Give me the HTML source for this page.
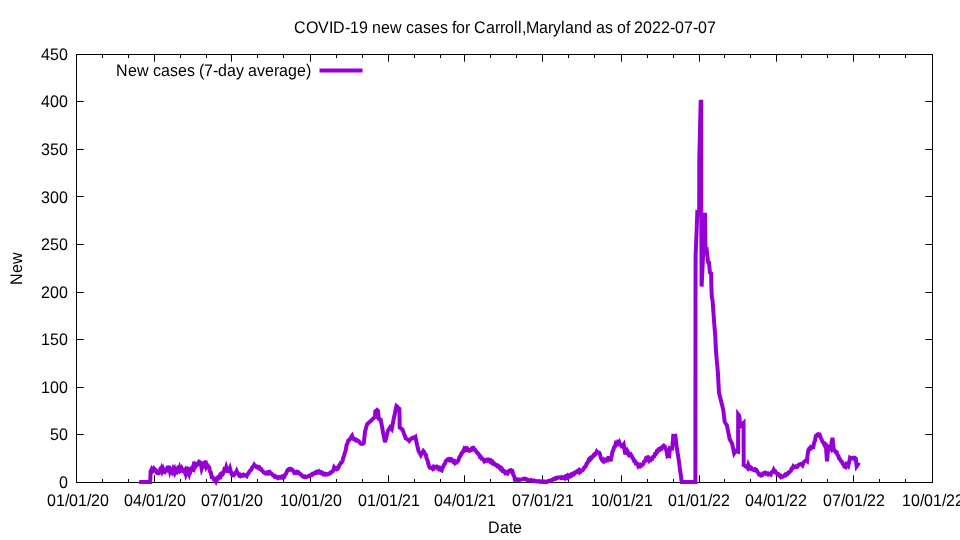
<!DOCTYPE html>
<html lang="en"><head><meta charset="utf-8"><title>COVID-19 new cases for Carroll,Maryland</title>
<style>html,body{margin:0;padding:0;background:#fff;overflow:hidden}body{width:960px;height:540px;position:relative}</style>
</head><body>
<svg width="960" height="540" viewBox="0 0 960 540" style="position:absolute;left:0;top:0">
<rect width="960" height="540" fill="#fff"/>
<path d="M154.50 482.5v-7.2M154.50 54.5v7.2M231.50 482.5v-7.2M231.50 54.5v7.2M310.50 482.5v-7.2M310.50 54.5v7.2M388.50 482.5v-7.2M388.50 54.5v7.2M464.50 482.5v-7.2M464.50 54.5v7.2M542.50 482.5v-7.2M542.50 54.5v7.2M621.50 482.5v-7.2M621.50 54.5v7.2M699.50 482.5v-7.2M699.50 54.5v7.2M776.50 482.5v-7.2M776.50 54.5v7.2M853.50 482.5v-7.2M853.50 54.5v7.2M102.50 482.5v-3.5M102.50 54.5v3.5M128.50 482.5v-3.5M128.50 54.5v3.5M180.50 482.5v-3.5M180.50 54.5v3.5M206.50 482.5v-3.5M206.50 54.5v3.5M257.50 482.5v-3.5M257.50 54.5v3.5M283.50 482.5v-3.5M283.50 54.5v3.5M336.50 482.5v-3.5M336.50 54.5v3.5M362.50 482.5v-3.5M362.50 54.5v3.5M414.50 482.5v-3.5M414.50 54.5v3.5M440.50 482.5v-3.5M440.50 54.5v3.5M490.50 482.5v-3.5M490.50 54.5v3.5M516.50 482.5v-3.5M516.50 54.5v3.5M568.50 482.5v-3.5M568.50 54.5v3.5M594.50 482.5v-3.5M594.50 54.5v3.5M647.50 482.5v-3.5M647.50 54.5v3.5M673.50 482.5v-3.5M673.50 54.5v3.5M724.50 482.5v-3.5M724.50 54.5v3.5M750.50 482.5v-3.5M750.50 54.5v3.5M801.50 482.5v-3.5M801.50 54.5v3.5M827.50 482.5v-3.5M827.50 54.5v3.5M879.50 482.5v-3.5M879.50 54.5v3.5M905.50 482.5v-3.5M905.50 54.5v3.5M76.5 434.50h7.2M932.5 434.50h-7.2M76.5 387.50h7.2M932.5 387.50h-7.2M76.5 339.50h7.2M932.5 339.50h-7.2M76.5 292.50h7.2M932.5 292.50h-7.2M76.5 244.50h7.2M932.5 244.50h-7.2M76.5 196.50h7.2M932.5 196.50h-7.2M76.5 149.50h7.2M932.5 149.50h-7.2M76.5 101.50h7.2M932.5 101.50h-7.2" stroke="#000" stroke-width="1" fill="none"/>
<rect x="76.5" y="54.5" width="856.0" height="428.0" fill="none" stroke="#000" stroke-width="1"/>
<path d="M139.2 482.0 L140.0 482.0 L140.9 482.0 L141.7 482.0 L142.6 482.0 L143.4 482.0 L144.3 482.0 L145.1 482.0 L146.0 482.0 L146.8 482.0 L147.7 482.0 L148.5 482.0 L149.4 482.0 L150.2 482.0 L150.6 471.4 L151.4 469.7 L152.2 471.7 L153.0 470.9 L154.0 468.6 L155.0 469.8 L155.8 470.1 L156.7 472.8 L157.5 473.2 L158.3 473.4 L159.2 472.8 L160.0 470.2 L160.8 471.2 L161.5 469.0 L162.2 471.2 L163.0 469.2 L163.8 471.8 L164.5 472.1 L165.2 470.2 L166.0 470.7 L166.8 470.6 L167.5 467.4 L168.3 467.2 L169.2 467.4 L170.0 471.4 L170.8 469.4 L171.5 469.7 L172.2 471.4 L173.0 469.2 L173.8 471.2 L174.5 469.7 L175.2 472.7 L176.0 471.2 L176.8 471.8 L177.7 469.0 L178.5 469.9 L179.3 467.9 L180.1 470.9 L180.9 470.2 L181.7 468.5 L182.6 470.5 L183.6 470.0 L184.5 471.9 L185.2 470.6 L186.0 474.2 L186.8 472.1 L187.5 474.8 L188.2 472.1 L189.0 474.0 L189.8 470.6 L190.5 471.4 L191.4 468.8 L192.4 469.3 L193.3 466.0 L194.1 467.6 L194.9 464.7 L195.7 465.8 L196.5 464.2 L197.4 464.7 L198.2 463.8 L199.1 461.8 L200.0 462.3 L200.8 464.0 L201.7 468.9 L202.6 466.5 L203.5 466.6 L204.2 462.7 L205.0 462.3 L205.8 462.4 L206.5 466.6 L207.4 465.1 L208.3 466.4 L209.2 467.5 L210.0 471.6 L210.8 472.4 L211.7 477.2 L212.8 477.3 L213.8 479.4 L214.8 479.4 L215.8 481.2 L216.5 479.0 L217.3 479.3 L218.0 477.6 L218.9 477.9 L219.9 475.4 L220.8 476.2 L221.7 473.8 L222.6 474.2 L223.5 472.4 L224.4 469.4 L225.4 470.1 L226.3 467.1 L227.3 470.3 L228.3 471.2 L229.2 470.8 L230.0 468.6 L230.8 471.7 L231.7 474.1 L232.5 475.4 L233.5 475.5 L234.5 474.4 L235.2 472.9 L236.0 472.9 L236.7 471.2 L237.5 473.2 L238.3 473.6 L239.2 475.8 L240.0 476.2 L240.9 475.1 L241.8 475.8 L242.6 475.7 L243.5 474.8 L244.3 475.5 L245.1 475.2 L245.9 475.3 L246.7 476.0 L247.5 474.1 L248.3 473.6 L249.2 471.8 L250.0 470.8 L250.8 470.2 L251.7 469.0 L252.5 466.9 L253.4 466.5 L254.2 464.8 L255.0 465.9 L255.7 466.0 L256.5 467.2 L257.4 466.9 L258.3 467.8 L259.2 467.3 L260.1 469.0 L261.1 469.0 L262.0 470.7 L262.8 471.0 L263.5 472.2 L264.2 472.8 L265.0 473.1 L265.8 473.5 L266.7 472.6 L267.5 473.2 L268.3 472.3 L269.2 473.2 L270.0 472.3 L270.9 473.5 L271.8 473.8 L272.6 475.1 L273.5 475.3 L274.3 476.5 L275.1 476.1 L275.9 477.2 L276.7 477.3 L277.5 478.0 L278.4 477.1 L279.2 477.7 L280.0 477.3 L280.8 477.6 L281.7 476.7 L282.5 477.3 L283.4 476.4 L284.2 476.9 L285.2 474.6 L286.3 473.2 L287.3 470.6 L288.3 469.4 L289.1 469.0 L290.0 469.7 L290.9 468.9 L291.7 469.4 L292.5 470.1 L293.4 470.9 L294.2 472.7 L295.0 472.2 L295.8 472.8 L296.7 472.0 L297.5 472.8 L298.3 472.3 L299.1 473.4 L300.0 473.6 L300.8 474.8 L301.6 475.0 L302.5 476.4 L303.3 476.5 L304.1 477.0 L305.0 476.4 L305.8 477.0 L306.7 477.0 L307.5 476.5 L308.4 476.4 L309.2 475.6 L310.1 475.8 L311.0 474.8 L311.8 474.9 L312.6 473.8 L313.4 474.0 L314.2 473.2 L315.0 473.2 L315.8 472.3 L316.7 472.8 L317.5 471.7 L318.4 472.3 L319.2 471.5 L320.0 472.5 L320.9 472.2 L321.7 473.3 L322.5 473.0 L323.4 474.3 L324.2 474.0 L325.0 474.6 L325.8 473.7 L326.7 474.0 L327.5 474.4 L328.3 474.0 L329.1 473.9 L330.0 472.8 L330.8 472.9 L331.7 471.8 L332.5 471.5 L333.4 470.1 L334.2 467.3 L335.0 468.2 L335.9 468.0 L336.7 469.3 L337.5 469.0 L338.3 467.8 L339.2 465.5 L340.0 464.4 L340.8 462.8 L341.7 462.4 L342.5 461.0 L343.3 457.7 L344.1 455.6 L345.0 452.3 L345.8 450.2 L346.6 444.8 L347.5 443.1 L348.3 440.6 L349.0 440.5 L349.8 439.0 L350.5 438.7 L351.3 436.8 L352.1 435.7 L353.2 438.6 L353.9 439.3 L354.6 439.4 L355.4 439.2 L356.2 440.5 L357.1 440.2 L357.9 441.0 L358.8 441.2 L359.8 442.7 L360.8 443.8 L361.7 444.0 L362.7 443.9 L363.8 443.2 L365.0 431.8 L366.1 427.8 L367.1 424.3 L368.1 423.3 L369.0 422.6 L370.0 421.6 L370.8 421.0 L371.7 419.9 L372.5 419.3 L373.3 418.4 L374.2 417.7 L375.0 417.3 L375.3 411.4 L376.1 410.8 L377.0 409.9 L377.9 410.7 L378.8 418.9 L379.7 419.4 L380.6 419.5 L381.5 424.2 L382.4 428.5 L383.2 433.3 L384.1 437.6 L385.0 442.1 L386.0 438.5 L386.9 434.8 L387.9 430.7 L388.9 429.2 L390.0 427.4 L390.9 428.5 L391.7 429.3 L392.5 424.8 L393.3 420.9 L394.1 417.0 L394.9 413.5 L395.7 409.5 L396.5 406.1 L397.5 406.9 L398.4 408.2 L399.4 408.9 L399.7 427.6 L400.6 428.1 L401.6 428.9 L402.5 429.6 L403.3 431.6 L404.1 434.0 L405.0 436.0 L405.8 438.4 L406.6 438.7 L407.5 439.6 L408.4 440.1 L409.2 440.9 L410.0 439.9 L410.9 439.2 L411.7 438.2 L412.6 438.1 L413.5 437.5 L414.5 437.4 L415.4 436.8 L416.2 441.0 L417.1 444.9 L417.8 448.1 L418.5 450.9 L419.3 452.4 L420.0 453.6 L420.8 455.1 L421.6 453.4 L422.5 452.4 L423.3 451.0 L424.1 451.9 L425.0 454.0 L425.8 454.8 L426.6 458.4 L427.5 460.4 L428.4 464.1 L429.2 466.5 L430.0 467.7 L430.9 468.0 L431.7 467.7 L432.5 468.6 L433.3 467.2 L434.1 468.1 L435.0 466.8 L435.8 467.0 L436.7 466.7 L437.6 468.2 L438.5 467.7 L439.3 469.0 L440.1 468.4 L440.9 469.8 L441.7 470.3 L442.5 468.0 L443.2 466.9 L444.0 464.7 L444.9 463.8 L445.8 461.1 L446.7 460.3 L447.5 459.4 L448.3 459.1 L449.2 460.0 L450.0 458.8 L450.8 458.9 L451.6 460.4 L452.5 460.3 L453.3 461.8 L454.2 461.3 L455.0 462.8 L455.8 461.8 L456.7 462.4 L457.5 461.4 L458.3 460.6 L459.1 457.8 L460.0 456.4 L460.8 455.3 L461.6 453.0 L462.5 452.6 L463.4 450.9 L464.2 448.9 L465.0 449.8 L465.9 448.6 L466.7 449.7 L467.5 448.9 L468.3 450.2 L469.2 450.9 L470.0 450.5 L470.8 450.4 L471.7 448.4 L472.5 447.8 L473.3 447.7 L474.1 449.6 L475.0 449.7 L475.8 451.1 L476.6 451.7 L477.5 453.5 L478.3 453.6 L479.2 454.9 L480.0 457.0 L480.8 456.9 L481.7 458.7 L482.5 458.7 L483.4 459.8 L484.2 461.1 L485.0 460.2 L485.9 460.8 L486.7 460.0 L487.5 460.5 L488.4 459.5 L489.2 459.7 L490.0 461.3 L490.8 460.7 L491.7 462.4 L492.5 461.9 L493.3 463.6 L494.1 463.4 L495.0 464.7 L495.8 465.1 L496.6 465.0 L497.5 466.3 L498.3 466.0 L499.2 467.4 L500.0 467.2 L500.8 469.0 L501.7 468.6 L502.5 470.7 L503.3 470.3 L504.2 471.1 L505.0 472.8 L505.8 472.2 L506.7 473.4 L507.5 473.6 L508.3 471.5 L509.2 470.6 L510.0 470.3 L510.8 470.2 L511.7 471.8 L512.5 471.4 L513.3 474.7 L514.2 476.2 L515.0 479.5 L515.8 479.1 L516.6 479.8 L517.5 479.5 L518.3 480.1 L519.1 479.5 L520.0 479.8 L520.8 479.6 L521.7 479.4 L522.5 479.2 L523.4 478.7 L524.2 478.8 L525.0 478.7 L525.8 479.4 L526.7 479.3 L527.5 479.9 L528.3 479.9 L529.1 480.4 L530.0 480.5 L530.8 480.1 L531.7 480.6 L532.5 480.4 L533.3 481.0 L534.2 480.5 L535.0 480.9 L535.9 481.4 L536.7 481.1 L537.5 481.5 L538.4 481.5 L539.2 481.1 L540.0 481.8 L540.9 481.4 L541.7 481.8 L542.5 481.4 L543.4 482.0 L544.2 481.6 L545.0 482.0 L545.9 481.8 L546.7 482.0 L547.5 481.4 L548.4 481.5 L549.2 480.8 L550.0 480.8 L550.9 480.6 L551.7 479.9 L552.5 479.9 L553.4 479.1 L554.2 478.9 L555.0 479.1 L555.8 478.1 L556.6 478.3 L557.5 477.5 L558.3 477.6 L559.1 477.4 L560.0 477.4 L560.8 477.9 L561.6 477.2 L562.5 478.0 L563.3 478.1 L564.2 477.2 L565.0 478.1 L565.8 476.8 L566.7 477.6 L567.5 476.0 L568.4 477.1 L569.2 475.7 L570.0 476.1 L570.9 474.8 L571.7 475.3 L572.5 474.1 L573.4 474.5 L574.2 473.0 L575.0 473.2 L575.9 471.9 L576.7 471.4 L577.5 471.8 L578.4 470.7 L579.2 471.9 L580.0 470.4 L580.9 471.3 L581.7 470.5 L582.5 470.4 L583.3 469.4 L584.2 467.4 L585.0 467.1 L585.8 466.1 L586.6 463.7 L587.5 463.2 L588.3 461.1 L589.1 459.2 L590.0 459.6 L590.8 457.7 L591.7 457.8 L592.5 456.4 L593.3 456.2 L594.2 454.5 L595.0 454.6 L595.9 453.4 L596.7 451.7 L597.5 452.8 L598.4 452.6 L599.2 452.8 L600.0 454.3 L600.9 458.1 L601.7 459.7 L602.5 460.7 L603.4 459.8 L604.2 461.1 L605.0 460.0 L605.9 460.4 L606.7 459.3 L607.5 459.9 L608.4 458.0 L609.2 458.0 L610.0 459.5 L610.8 459.7 L611.6 456.6 L612.5 451.4 L613.3 450.1 L614.1 447.2 L615.0 446.4 L615.8 443.4 L616.6 444.1 L617.5 442.4 L618.4 443.4 L619.2 442.2 L620.0 444.3 L620.9 444.6 L621.7 446.4 L622.7 446.2 L623.7 444.7 L624.5 450.0 L625.3 454.5 L626.1 451.8 L627.0 450.3 L627.7 451.5 L628.5 454.6 L629.2 455.5 L630.0 455.4 L630.8 454.5 L631.6 455.6 L632.5 458.1 L633.4 458.8 L634.2 461.1 L635.0 461.2 L635.8 463.4 L636.7 463.2 L637.5 464.1 L638.3 466.1 L639.1 465.1 L640.0 466.1 L640.8 464.9 L641.7 465.5 L642.5 464.7 L643.3 464.1 L644.1 461.6 L645.0 461.2 L645.8 458.9 L646.5 459.3 L647.3 457.3 L648.0 457.2 L649.2 460.3 L650.0 459.1 L650.9 459.8 L651.7 458.5 L652.5 458.6 L653.3 456.6 L654.2 456.3 L655.0 453.9 L655.8 453.9 L656.7 451.5 L657.5 451.6 L658.4 449.4 L659.2 448.9 L660.0 449.5 L660.9 448.2 L661.7 448.6 L662.8 446.5 L663.8 445.6 L664.8 446.4 L665.8 448.6 L666.6 451.5 L667.5 456.1 L668.4 455.6 L669.2 455.9 L670.0 448.2 L670.7 448.4 L671.5 448.2 L672.2 448.4 L673.3 435.8 L674.3 435.9 L675.3 435.8 L676.0 441.3 L676.7 446.7 L677.5 452.2 L678.4 457.8 L679.2 463.3 L680.0 469.5 L680.9 475.8 L681.7 482.0 L682.6 482.0 L683.4 482.0 L684.3 482.0 L685.1 482.0 L686.0 482.0 L686.8 482.0 L687.7 482.0 L688.5 482.0 L689.4 482.0 L690.3 482.0 L691.1 482.0 L692.0 482.0 L692.8 482.0 L693.7 482.0 L694.5 482.0 L695.4 482.0 L695.5 300.0 L695.6 256.0 L696.5 234.5 L697.3 213.0 L698.2 213.6 L699.2 214.2 L699.3 158.0 L700.0 129.9 L700.7 101.8 L701.2 101.8 L701.2 200.0 L701.6 286.6 L702.5 268.2 L703.3 249.7 L704.1 231.2 L705.0 212.8 L705.4 249.0 L706.6 249.0 L707.3 255.5 L708.0 262.0 L709.0 262.5 L709.9 272.5 L710.5 273.0 L711.2 273.5 L711.3 284.0 L711.8 297.0 L712.6 300.5 L713.4 312.0 L714.3 324.3 L715.3 336.6 L715.9 350.0 L716.8 360.7 L717.8 371.4 L719.0 392.8 L719.9 396.4 L720.8 400.0 L721.6 403.3 L722.5 406.7 L723.3 410.0 L724.0 415.9 L724.7 421.7 L725.5 423.1 L726.2 424.4 L727.0 425.8 L727.9 430.3 L728.8 434.7 L729.7 439.2 L730.5 440.6 L731.2 441.9 L732.0 443.3 L732.7 446.6 L733.5 450.0 L734.2 453.3 L735.0 452.1 L735.8 450.8 L736.6 451.1 L737.3 451.4 L738.1 451.7 L738.2 414.4 L739.2 415.7 L740.3 426.2 L741.1 425.4 L741.9 424.6 L742.7 423.8 L743.5 423.0 L743.7 465.0 L744.7 465.6 L745.6 466.5 L746.5 466.5 L747.5 467.8 L748.3 464.8 L749.1 466.7 L750.0 466.8 L750.8 468.6 L751.6 468.3 L752.5 469.6 L753.3 469.8 L754.1 470.1 L755.0 469.1 L755.8 469.4 L756.6 470.2 L757.5 472.1 L758.3 473.1 L759.0 474.4 L759.8 474.3 L760.5 475.5 L761.3 475.6 L762.3 475.0 L763.2 473.2 L764.2 472.8 L765.0 472.6 L765.8 473.7 L766.7 473.2 L767.5 473.2 L768.3 474.4 L769.1 473.8 L770.0 473.6 L770.8 474.4 L771.8 472.2 L772.7 472.0 L773.7 469.8 L774.5 471.4 L775.2 471.3 L776.0 473.0 L776.7 473.1 L777.5 474.3 L778.3 474.2 L779.2 475.6 L780.0 475.5 L780.8 476.9 L781.6 476.2 L782.5 476.7 L783.3 476.4 L784.1 476.0 L785.0 474.8 L785.8 475.2 L786.6 474.0 L787.5 474.1 L788.3 472.6 L789.2 472.6 L790.0 471.4 L790.8 470.9 L791.6 468.7 L792.5 468.4 L793.3 466.4 L794.1 467.1 L795.0 467.0 L795.8 466.5 L796.7 467.1 L797.5 466.9 L798.3 465.4 L799.2 464.5 L800.0 464.4 L800.8 464.0 L801.7 464.3 L802.5 465.2 L803.3 463.0 L804.2 461.6 L805.0 461.1 L806.0 460.3 L807.0 461.1 L807.6 455.1 L808.3 450.2 L809.1 448.7 L810.0 448.9 L810.8 447.2 L811.6 447.8 L812.5 446.7 L813.3 446.9 L814.1 442.8 L815.0 440.5 L815.8 436.2 L816.5 436.0 L817.3 434.6 L818.1 434.2 L818.9 435.1 L819.7 434.8 L820.6 437.7 L821.6 439.3 L822.5 441.9 L823.4 442.7 L824.2 444.4 L825.0 443.7 L825.8 444.4 L827.0 461.4 L827.6 454.9 L828.3 447.2 L829.1 448.0 L830.0 447.5 L830.8 448.6 L831.6 442.3 L832.5 437.8 L833.1 443.3 L833.8 450.2 L834.8 450.6 L835.7 452.2 L836.7 452.2 L837.5 455.0 L838.4 455.7 L839.2 458.6 L840.0 459.1 L840.9 461.0 L841.7 461.4 L842.6 463.6 L843.5 464.8 L844.5 466.6 L845.6 467.1 L846.7 461.8 L847.5 464.5 L848.3 465.6 L849.1 462.5 L850.0 458.1 L850.8 458.8 L851.7 458.0 L852.5 458.1 L853.3 457.8 L854.1 458.7 L855.0 458.0 L855.8 458.6 L856.7 466.4 L857.7 465.1 L858.7 462.5" fill="none" stroke="#9400d3" stroke-width="4" stroke-linejoin="miter" stroke-miterlimit="3.8" stroke-linecap="butt"/>
<path d="M319.5 70.6H362.5" stroke="#9400d3" stroke-width="4" fill="none"/>
<g font-family="'Liberation Sans', Arial, sans-serif" font-size="16" fill="#000" text-rendering="geometricPrecision">
<text transform="translate(294 32.5) scale(1 1.05)" x="0 12 24 35 39 51 56 65 74 78 87 96 108 112 120 129 137 146 154 158 162 171 176 180 192 201 206 211 220 224 228 232 245 254 259 267 271 280 289 298 302 311 319 323 332 336 340 349 358 367 376 381 390 399 404 413" y="0">COVID-19 new cases for Carroll,Maryland as of 2022-07-07</text>
<text transform="translate(116 75.5) scale(1 1.05)" x="0 12 21 33 37 45 54 62 71 79 83 88 97 102 111 120 128 132 141 149 158 163 172 181 190" y="0">New cases (7-day average)</text>
<text transform="translate(59 488.0) scale(1 1.05)" x="0" y="0">0</text>
<text transform="translate(50 440.44) scale(1 1.05)" x="0 9" y="0">50</text>
<text transform="translate(41 392.87) scale(1 1.05)" x="0 9 18" y="0">100</text>
<text transform="translate(41 345.31) scale(1 1.05)" x="0 9 18" y="0">150</text>
<text transform="translate(41 297.74) scale(1 1.05)" x="0 9 18" y="0">200</text>
<text transform="translate(41 250.17) scale(1 1.05)" x="0 9 18" y="0">250</text>
<text transform="translate(41 202.61) scale(1 1.05)" x="0 9 18" y="0">300</text>
<text transform="translate(41 155.05) scale(1 1.05)" x="0 9 18" y="0">350</text>
<text transform="translate(41 107.48) scale(1 1.05)" x="0 9 18" y="0">400</text>
<text transform="translate(41 59.91) scale(1 1.05)" x="0 9 18" y="0">450</text>
<text transform="translate(47 506.0) scale(1 1.05)" x="0 9 18 22 31 40 44 53" y="0">01/01/20</text>
<text transform="translate(124 506.0) scale(1 1.05)" x="0 9 18 22 31 40 44 53" y="0">04/01/20</text>
<text transform="translate(201 506.0) scale(1 1.05)" x="0 9 18 22 31 40 44 53" y="0">07/01/20</text>
<text transform="translate(280 506.0) scale(1 1.05)" x="0 9 18 22 31 40 44 53" y="0">10/01/20</text>
<text transform="translate(358 506.0) scale(1 1.05)" x="0 9 18 22 31 40 44 53" y="0">01/01/21</text>
<text transform="translate(434 506.0) scale(1 1.05)" x="0 9 18 22 31 40 44 53" y="0">04/01/21</text>
<text transform="translate(512 506.0) scale(1 1.05)" x="0 9 18 22 31 40 44 53" y="0">07/01/21</text>
<text transform="translate(591 506.0) scale(1 1.05)" x="0 9 18 22 31 40 44 53" y="0">10/01/21</text>
<text transform="translate(668 506.0) scale(1 1.05)" x="0 9 18 22 31 40 44 53" y="0">01/01/22</text>
<text transform="translate(745 506.0) scale(1 1.05)" x="0 9 18 22 31 40 44 53" y="0">04/01/22</text>
<text transform="translate(823 506.0) scale(1 1.05)" x="0 9 18 22 31 40 44 53" y="0">07/01/22</text>
<text transform="translate(902 506.0) scale(1 1.05)" x="0 9 18 22 31 40 44 53" y="0">10/01/22</text>
<text transform="translate(488 532.5) scale(1 1.05)" x="0 12 21 25" y="0">Date</text>
<text transform="translate(21.5 285) rotate(-90) scale(1 1.05)" x="0 12 21" y="0">New</text>
</g>
</svg>
</body></html>
